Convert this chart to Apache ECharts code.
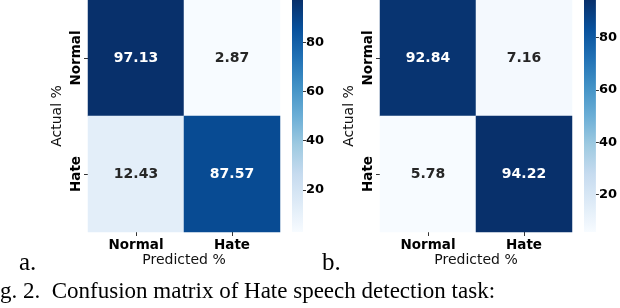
<!DOCTYPE html>
<html>
<head>
<meta charset="utf-8">
<script src="https://cdn.jsdelivr.net/npm/echarts@6/dist/echarts.min.js"></script>
<style>
html,body{margin:0;padding:0;background:#fff;}
#chart{width:620px;height:308px;}
</style>
</head>
<body>
<div id="chart"></div>
<script>
// ---- data ----
const categories = ['Normal', 'Hate'];
const matrixA = [[97.13, 2.87], [12.43, 87.57]]; // rows: actual, cols: predicted
const matrixB = [[92.84, 7.16], [5.78, 94.22]];
const colorbarTicks = [20, 40, 60, 80];
const panelLabels = ['a.', 'b.'];
const captionText = 'g. 2.  Confusion matrix of Hate speech detection task:';
const xTitle = 'Predicted %';
const yTitle = 'Actual %';

const blues = ['#f7fbff','#deebf7','#c6dbef','#9ecae1','#6baed6','#4292c6','#2171b5','#08519c','#08306b'];
const sansFont = '"DejaVu Sans", sans-serif';
const serifFont = '"Liberation Serif", "DejaVu Serif", serif';

function toData(m) {
  const out = [];
  m.forEach((row, i) => row.forEach((v, j) => {
    out.push({ value: [j, i, v], label: { color: v > 50 ? '#ffffff' : '#262626' } });
  }));
  return out;
}
function flat(m) { return m.reduce((a, r) => a.concat(r), []); }

const panels = [
  { m: matrixA, gridLeft: 88, cbLeft: 292, cbWidth: 11 },
  { m: matrixB, gridLeft: 380, cbLeft: 584, cbWidth: 12 }
];
const gTop = 0, gHeight = 232, gWidth = 192;

const gradStops = blues.map((c, i) => ({ offset: 1 - i / (blues.length - 1), color: c }));

const grid = [], xAxis = [], yAxis = [], heatSeries = [], cbSeries = [], visualMap = [];
panels.forEach((p, k) => {
  const vals = flat(p.m);
  const mn = Math.min.apply(null, vals), mx = Math.max.apply(null, vals);
  // heatmap grid
  grid.push({ left: p.gridLeft, top: gTop, width: gWidth, height: gHeight });
  xAxis.push({
    type: 'category', gridIndex: 2 * k, data: categories,
    axisLine: { show: false }, splitLine: { show: false },
    axisTick: { show: true, length: 4, alignWithLabel: true, lineStyle: { color: '#333' } },
    axisLabel: { fontFamily: sansFont, fontWeight: 'bold', fontSize: 13.5, color: '#000', margin: 6 },
    name: xTitle, nameLocation: 'middle', nameGap: 21, nameMoveOverlap: false,
    nameTextStyle: { fontFamily: sansFont, fontSize: 14, color: '#111', verticalAlign: 'top' }
  });
  yAxis.push({
    type: 'category', gridIndex: 2 * k, data: categories, inverse: true,
    axisLine: { show: false }, splitLine: { show: false },
    axisTick: { show: true, length: 4, alignWithLabel: true, lineStyle: { color: '#333' } },
    axisLabel: { fontFamily: sansFont, fontWeight: 'bold', fontSize: 13.5, color: '#000', rotate: 90, margin: 5 },
    name: yTitle, nameLocation: 'middle', nameGap: 24, nameRotate: 90,
    nameTextStyle: { fontFamily: sansFont, fontSize: 14, color: '#111' }
  });
  heatSeries.push({
    type: 'heatmap', xAxisIndex: 2 * k, yAxisIndex: 2 * k,
    data: toData(p.m),
    label: {
      show: true, fontFamily: sansFont, fontWeight: 'bold', fontSize: 14,
      formatter: (d) => d.value[2].toFixed(2)
    },
    itemStyle: { borderWidth: 0 },
    emphasis: { disabled: true }
  });
  visualMap.push({
    type: 'continuous', seriesIndex: k, min: mn, max: mx,
    inRange: { color: blues }, show: false
  });
  // colorbar axis grid
  grid.push({ left: p.cbLeft, top: gTop, width: p.cbWidth, height: gHeight });
  xAxis.push({ type: 'category', gridIndex: 2 * k + 1, data: [''], show: false, boundaryGap: true });
  yAxis.push({
    type: 'value', gridIndex: 2 * k + 1, position: 'right', min: mn, max: mx,
    axisLine: { show: false }, splitLine: { show: false },
    axisTick: { show: true, length: 3, customValues: colorbarTicks, lineStyle: { color: '#333' } },
    axisLabel: { customValues: colorbarTicks, fontFamily: sansFont, fontWeight: 'bold', fontSize: 13, color: '#000', margin: 3 }
  });
  cbSeries.push({
    type: 'custom', xAxisIndex: 2 * k + 1, yAxisIndex: 2 * k + 1, silent: true,
    data: [[0, mn, mx]],
    renderItem: function (params, api) {
      const topPt = api.coord([api.value(0), api.value(2)]);
      const botPt = api.coord([api.value(0), api.value(1)]);
      const w = api.size([1, 0])[0];
      return {
        type: 'rect',
        shape: { x: topPt[0] - w / 2, y: topPt[1], width: w, height: botPt[1] - topPt[1] },
        style: { fill: new echarts.graphic.LinearGradient(0, 0, 0, 1, gradStops.slice().reverse()) }
      };
    }
  });
});

const chart = echarts.init(document.getElementById('chart'), null, { renderer: 'canvas' });
chart.setOption({
  animation: false,
  backgroundColor: '#ffffff',
  grid, xAxis, yAxis, visualMap,
  series: heatSeries.concat(cbSeries),
  graphic: [
    { type: 'text', left: 19, top: 251, style: { text: panelLabels[0], font: '25px ' + serifFont, fill: '#000' } },
    { type: 'text', left: 322, top: 251, style: { text: panelLabels[1], font: '25px ' + serifFont, fill: '#000' } },
    { type: 'text', left: 0, top: 280, style: { text: captionText, font: '23px ' + serifFont, fill: '#000' } }
  ]
});
</script>
</body>
</html>
